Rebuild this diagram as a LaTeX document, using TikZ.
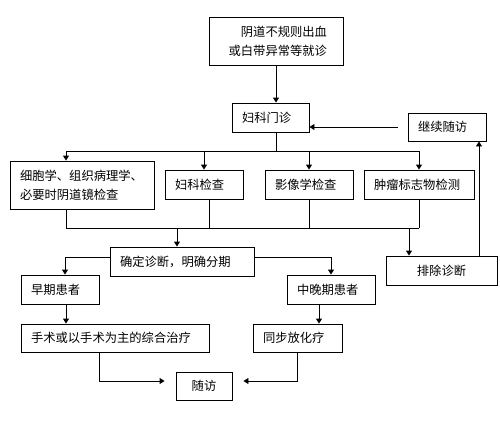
\documentclass[tikz,border=0pt]{standalone}
\usepackage{fontspec}
\newfontfamily\cjk{Noto Sans CJK SC}
\usetikzlibrary{arrows.meta,calc}

\begin{document}
\begin{tikzpicture}[x=1pt,y=1pt,
  box/.style={draw,line width=0.9pt,inner xsep=10pt,inner ysep=0pt,align=left,
    font=\cjk\fontsize{12.3}{19}\selectfont},
  arr/.style={-{Triangle[width=6pt,length=5pt]},line width=0.9pt}]
  \useasboundingbox (0,0) rectangle (500,-432);
  % boxes
  \node[box,inner xsep=16pt,text width=102pt,align=right,minimum height=48pt] (zd) at (276,-41) {阴道不规则出血\\或白带异常等就诊};
  \node[box,text width=57pt,minimum height=29pt] (fk) at (270.5,-117.5) {妇科门诊};
  \node[box,text width=58pt,minimum height=28pt] (jx) at (447,-127) {继续随访};
  \node[box,text width=124pt,minimum height=48pt] (xb) at (82,-185) {细胞学、组织病理学、\\必要时阴道镜检查};
  \node[box,text width=58pt,minimum height=29pt] (fj) at (204,-184.5) {妇科检查};
  \node[box,text width=68pt,minimum height=29pt] (yx) at (309,-184.5) {影像学检查};
  \node[box,text width=90pt,minimum height=29pt] (zl) at (419,-184.5) {肿瘤标志物检测};
  \node[box,text width=124pt,minimum height=29pt] (qd) at (182,-261.5) {确定诊断，明确分期};
  \node[box,text width=91pt,align=center,minimum height=29pt] (pc) at (441.5,-270.5) {排除诊断};
  \node[box,text width=58pt,minimum height=29pt] (zq) at (60,-289.5) {早期患者};
  \node[box,text width=68pt,minimum height=29pt] (zw) at (331,-289.5) {中晚期患者};
  \node[box,text width=168pt,minimum height=28pt] (ss) at (115,-338) {手术或以手术为主的综合治疗};
  \node[box,text width=69pt,minimum height=28pt] (tb) at (297.5,-338) {同步放化疗};
  \node[box,text width=36pt,align=center,minimum height=28pt] (sf) at (204,-386) {随访};
  % rows
  \coordinate (r1) at (0,-151);
  \coordinate (r2) at (0,-228);
  \coordinate (xbn) at ([xshift=-16pt]xb.north);
  \coordinate (xbs) at ([xshift=-16pt]xb.south);
  \coordinate (fjs) at ([xshift=5pt]fj.south);
  \coordinate (qdn) at ([xshift=-5pt]qd.north);
  \coordinate (pcn) at ([xshift=-32.5pt]pc.north);
  \coordinate (pcr) at ([xshift=37.5pt]pc.north);
  \coordinate (jxw) at ([xshift=-10pt]jx.west);
  \coordinate (qdw) at ([yshift=4.5pt]qd.west);
  \coordinate (qde) at ([yshift=4.5pt]qd.east);
  \coordinate (zqn) at ([xshift=5pt]zq.north);
  \coordinate (zqs) at ([xshift=6pt]zq.south);
  \coordinate (zws) at ([xshift=-12pt]zw.south);
  \coordinate (sss) at ([xshift=-16pt]ss.south);
  \coordinate (sfw) at ([shift={(-11pt,5pt)}]sf.west);
  \coordinate (sfe) at ([shift={(11pt,5pt)}]sf.east);
  % connectors
  \draw[arr] (zd.south) -- (zd.south |- fk.north);
  \draw[line width=0.9pt] (zd.south |- fk.south) -- (zd.south |- r1);
  \draw[line width=0.9pt] (xbn |- r1) -- (zl.north |- r1);
  \foreach \n in {xbn,fj.north,yx.north,zl.north}
    \draw[arr] (\n |- r1) -- (\n);
  \foreach \n in {xbs,fjs,yx.south,zl.south}
    \draw[line width=0.9pt] (\n) -- (\n |- r2);
  \draw[line width=0.9pt] (xbs |- r2) -- (zl.south |- r2);
  \draw[arr] (qdn |- r2) -- (qdn);
  \draw[arr] (pcn |- r2) -- (pcn);
  \draw[arr] (pcr) -- (pcr |- jx.south);
  \draw[arr] (jxw) -- (jxw -| fk.east);
  \draw[arr] (qdw) -| (zqn);
  \draw[arr] (qde) -| (zw.north);
  \draw[arr] (zqs) -- (zqs |- ss.north);
  \draw[arr] (zws) -- (zws |- tb.north);
  \draw[arr] (sss) |- (sfw);
  \draw[arr] (tb.south) |- (sfe);
\end{tikzpicture}
\end{document}
